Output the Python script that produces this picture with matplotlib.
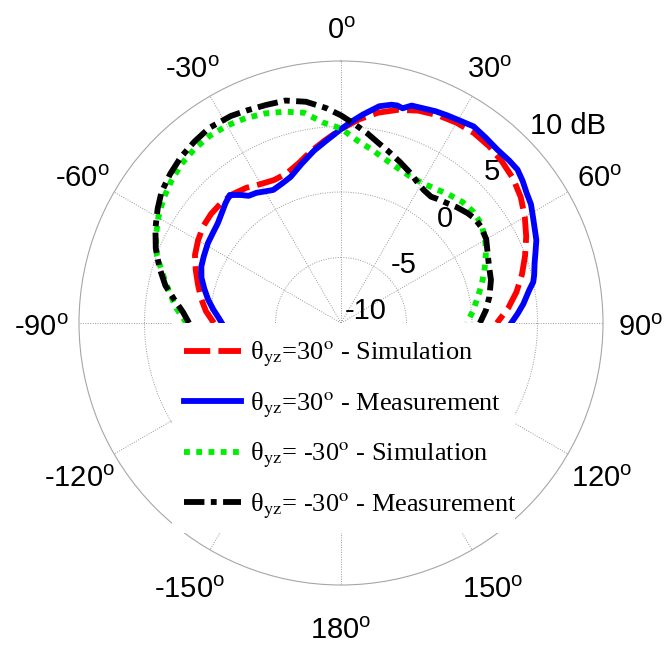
import numpy as np
import matplotlib
matplotlib.use('Agg')
import matplotlib.pyplot as plt
from matplotlib.patches import Rectangle
from matplotlib.font_manager import FontProperties
from matplotlib.transforms import offset_copy

plt.rcParams['mathtext.fontset'] = 'custom'
plt.rcParams['mathtext.rm'] = 'Liberation Sans'
plt.rcParams['mathtext.it'] = 'Liberation Sans:italic'
plt.rcParams['font.family'] = ['Liberation Sans', 'DejaVu Sans']

# ---------------- data (angle in degrees, gain in dB) ----------------
sim_p30_theta = [-90, -85, -80, -75, -70, -65, -60, -55, -50, -45, -40, -35, -30, -25, -20, -15,
                 -10, -5, 0, 5, 10, 15, 20, 25, 30, 35, 40, 45, 50, 55, 60, 65, 70, 75, 80, 85, 90]
sim_p30_db = [-0.3, 0.35, 0.85, 1.3, 1.8, 2.3, 2.6, 2.85, 2.95, 2.95, 2.85, 2.6, 2.25, 2.05, 2.15, 2.6,
              3.3, 4.0, 4.8, 5.6, 6.3, 6.85, 7.25, 7.5, 7.65, 7.7, 7.6, 7.4, 7.15, 6.75, 6.2, 5.6,
              4.95, 4.3, 3.6, 2.8, 1.9]

meas_p30_theta = [-90, -88, -84, -80, -76, -72, -68, -64, -59, -55, -51, -46, -44, -41, -38, -36,
                  -33, -30, -27, -23, -19, -14, -9, -5, 0, 3, 6, 10, 13, 14.5, 16, 18, 21, 24, 27,
                  30, 34, 38, 42, 46, 49, 52, 55, 58, 61, 64, 67, 70, 73, 76, 78, 80, 84, 87, 90]
meas_p30_db = [-0.9, -0.7, -0.2, 0.3, 0.75, 1.2, 1.5, 1.65, 1.85, 1.95, 2.1, 2.5, 2.7, 2.95, 2.4, 2.0,
               1.85, 1.6, 1.4, 1.55, 1.8, 2.5, 3.3, 3.9, 4.8, 5.4, 6.0, 6.8, 7.1, 7.15, 7.05, 7.45,
               7.55, 7.7, 7.8, 7.9, 8.1, 7.95, 7.82, 7.85, 7.85, 7.6, 7.3, 7.1, 6.75, 6.45, 6.2, 5.8,
               5.45, 5.2, 5.0, 4.6, 4.0, 3.5, 3.0]

sim_m30_theta = [-90, -85, -80, -75, -70, -65, -60, -55, -50, -45, -40, -35, -30, -25, -20, -15,
                 -10, -5, 0, 5, 10, 15, 20, 25, 30, 35, 40, 45, 50, 55, 60, 65, 70, 75, 80, 85, 90]
sim_m30_db = [1.8, 2.6, 3.3, 4.05, 4.95, 5.6, 6.1, 6.55, 6.9, 7.2, 7.37, 7.45, 7.4, 7.25, 7.02, 6.7,
              6.3, 5.35, 4.85, 4.0, 3.45, 2.95, 2.6, 2.38, 2.35, 2.52, 2.8, 3.08, 3.2, 3.1, 2.72, 2.2,
              1.65, 1.1, 0.55, 0.1, -0.4]

meas_m30_theta = [-90, -86, -82, -78, -73, -68, -63, -58, -54, -49, -44, -39, -34, -28, -24, -19,
                  -14, -9, -4, 0, 4, 8, 12, 15, 20, 25, 29, 32, 35.5, 38, 42, 45, 49, 52, 55.5, 60,
                  64.5, 69, 74, 80, 85, 90]
meas_m30_db = [1.6, 2.1, 2.85, 3.7, 4.5, 5.25, 5.9, 6.5, 6.95, 7.3, 7.6, 7.8, 7.97, 7.9, 7.75, 7.6,
               7.5, 7.1, 6.45, 5.85, 5.2, 4.6, 4.0, 3.65, 3.1, 2.6, 2.17, 1.95, 1.84, 2.0, 2.25, 2.5,
               2.79, 2.95, 2.97, 2.8, 2.4, 2.1, 1.91, 1.5, 1.1, 0.6]

labels = [u'\u03b8$_{\\rm yz}$=30$^{\\rm o}$ - Simulation',
          u'\u03b8$_{\\rm yz}$=30$^{\\rm o}$ - Measurement',
          u'\u03b8$_{\\rm yz}$= -30$^{\\rm o}$ - Simulation',
          u'\u03b8$_{\\rm yz}$= -30$^{\\rm o}$ - Measurement']

angle_ticks = [0, 30, 60, 90, 120, 150, 180, -150, -120, -90, -60, -30]
r_ticks = [-10, -5, 0, 5, 10]
r_tick_labels = ['-10', '-5', '0', '5', '10 dB']
r_min, r_max = -10, 10

# ---------------- figure ----------------
W, H = 670, 647
fig = plt.figure(figsize=(W / 100, H / 100), dpi=100)
cx, cy, R = 341, 323, 262
ax = fig.add_axes([(cx - R) / W, 1 - (cy + R) / H, 2 * R / W, 2 * R / H], projection='polar')
ax.set_theta_zero_location('N')
ax.set_theta_direction(-1)
ax.set_ylim(r_min, r_max)
ax.set_yticks(r_ticks[1:-1])
ax.set_yticklabels([])
ax.set_xticks(np.deg2rad(np.arange(0, 360, 30)))
ax.set_xticklabels([])
ax.grid(True, color='0.6', linestyle=(0, (1, 1.5)), linewidth=0.7)
ax.spines['polar'].set_color('0.65')
ax.spines['polar'].set_linewidth(0.8)

lw = 4.2
l1, = ax.plot(np.deg2rad(sim_p30_theta), sim_p30_db, color='#ff0000', lw=lw, dashes=(4.5, 1.4))
l2, = ax.plot(np.deg2rad(meas_p30_theta), meas_p30_db, color='#0000ff', lw=lw)
l3, = ax.plot(np.deg2rad(sim_m30_theta), sim_m30_db, color='#00ee00', lw=lw, dashes=(1, 1.1))
l4, = ax.plot(np.deg2rad(meas_m30_theta), meas_m30_db, color='#000000', lw=lw, dashes=(3.5, 1.1, 1, 1.1))

# angle labels
tra = offset_copy(ax.transData, fig=fig, x=0, y=-5, units='dots')
for a in angle_ticks:
    rp = 300 - 3 * np.cos(np.deg2rad(a))
    rv = r_min + (r_max - r_min) * rp / R
    ax.text(np.deg2rad(a), rv, '%d$^{\\rm o}$' % a, ha='center', va='center',
            fontsize=21, clip_on=False, transform=tra)

# radial labels (bottom-left corner just outside each ring, along 45 deg)
for v, t in zip(r_ticks, r_tick_labels):
    ax.text(np.deg2rad(45), v + 0.4, t, ha='left', va='baseline', fontsize=21,
            clip_on=False)

# white legend background covering lower part
rect = Rectangle((172 / W, 1 - 533 / H), (515 - 172) / W, (533 - 323) / H,
                 transform=fig.transFigure, facecolor='white', edgecolor='none', zorder=10)
fig.patches.append(rect)

prop = FontProperties(family='Liberation Serif', size=19, math_fontfamily='stix')
leg = fig.legend([l1, l2, l3, l4], labels, loc='upper left',
                 bbox_to_anchor=(184 / W, 1 - 340 / H), frameon=False, prop=prop,
                 handlelength=2.15, handletextpad=0.35, labelspacing=0.8,
                 borderpad=0, borderaxespad=0)
leg.set_zorder(20)

fig.savefig('out.png', dpi=100)
